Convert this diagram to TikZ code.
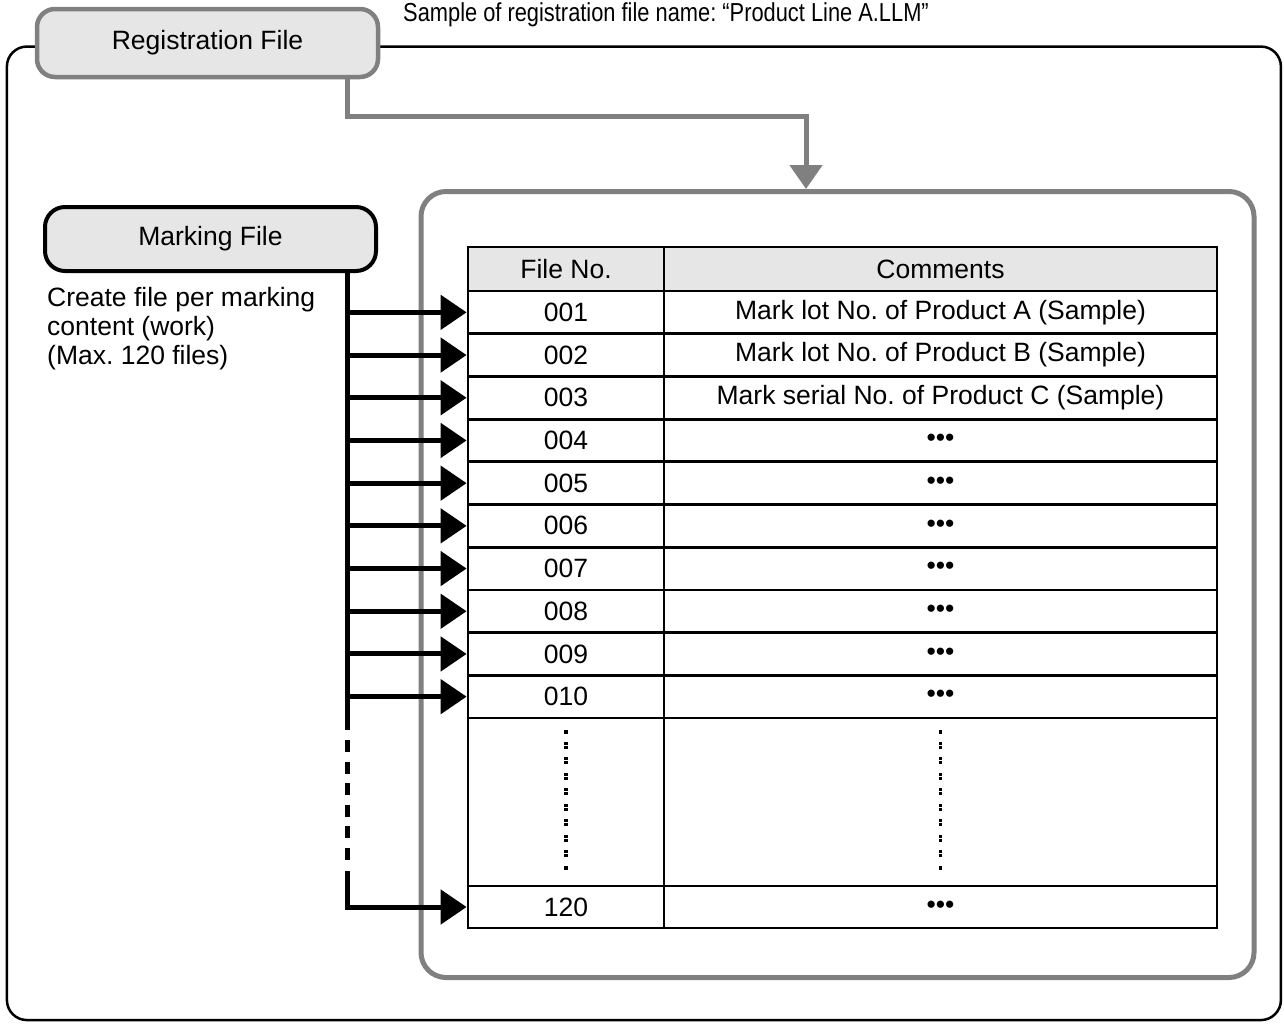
\documentclass[tikz,border=0pt]{standalone}
\usepackage{fontspec}
\setmainfont{Liberation Sans}
\newfontfamily\condfont[FakeStretch=0.84]{Liberation Sans}
\usetikzlibrary{arrows.meta}
\definecolor{boxfill}{HTML}{E6E6E6}
\definecolor{grayline}{HTML}{808080}
\frenchspacing
\begin{document}
\begin{tikzpicture}[x=1pt,y=-1pt,
  txt/.style={font=\fontsize{26.5}{29}\selectfont, inner sep=0pt},
  regbox/.style={draw=grayline, line width=4.5pt, fill=boxfill, rounded corners=18pt,
    minimum width=341pt, minimum height=68pt, inner sep=0pt, font=\fontsize{26.5}{29}\selectfont},
  markbox/.style={draw=black, line width=4pt, fill=boxfill, rounded corners=20pt,
    minimum width=331pt, minimum height=64pt, inner sep=0pt, font=\fontsize{26.5}{29}\selectfont},
  outerbox/.style={draw=black, line width=2.5pt, rounded corners=20pt, inner sep=0pt,
    minimum width=1274pt, minimum height=973.5pt},
  innerbox/.style={draw=grayline, line width=5pt, rounded corners=25pt, inner sep=0pt,
    minimum width=833pt, minimum height=786pt},
  cellA/.style={draw=black, line width=2.8pt, inner sep=0pt, minimum width=196pt,
    font=\fontsize{26.5}{29}\selectfont},
  cellB/.style={draw=black, line width=2.8pt, inner sep=0pt, minimum width=553pt,
    font=\fontsize{26.5}{29}\selectfont},
  grayarrow/.style={draw=grayline, line width=5pt, -{Triangle[length=24pt,width=32pt]}},
  blkarrow/.style={draw=black, line width=5pt, -{Triangle[length=26pt,width=34pt]}},
  blkline/.style={draw=black, line width=5pt},
]
\useasboundingbox (0,0) rectangle (1284,1023);
% outer frame
\node[outerbox] (outer) at (643.9,533.3) {};
% inner frame
\node[innerbox] (inner) at (837.5,584.5) {};
% registration file
\node[regbox] (reg) at (207.5,43) {Registration File};
\node[txt, anchor=base west] (sample) at (403,21) {\condfont\fontsize{26}{29}\selectfont Sample of registration file name: “Product Line A.LLM”};
% marking file
\node[markbox] (mark) at (210.5,239) {Marking File};
\node[txt, anchor=west, align=left] (create) at (47,329) {Create file per marking\\content (work)\\(Max. 120 files)};
% table header
\node[cellA, fill=boxfill, minimum height=44pt] (hA) at (566,269) {File No.};
\node[cellB, fill=boxfill, minimum height=44pt] (hB) at (940.5,269) {Comments};
% rows
\foreach \i/\num/\com in {1/001/Mark lot No. of Product A (Sample),
  2/002/Mark lot No. of Product B (Sample),
  3/003/Mark serial No. of Product C (Sample),
  4/004/•••, 5/005/•••, 6/006/•••, 7/007/•••, 8/008/•••, 9/009/•••, 10/010/•••}{
  \pgfmathsetmacro{\yc}{291+(\i-0.5)*42.7}
  \node[cellA, minimum height=42.7pt] (a\i) at (566,\yc) {\num};
  \node[cellB, minimum height=42.7pt] (b\i) at (940.5,\yc) {\com};
}
\node[cellA, minimum height=168pt] (aD) at (566,802) {};
\node[cellB, minimum height=168pt] (bD) at (940.5,802) {};
\node[cellA, minimum height=42pt] (a120) at (566,907) {120};
\node[cellB, minimum height=42pt] (b120) at (940.5,907) {•••};
% vertical dots in the gap row
\foreach \xx in {566,940.5}{
  \foreach \yy in {732,868}{\fill (\xx-1.6,\yy-1.6) rectangle (\xx+1.6,\yy+1.6);}
  \foreach \k in {0,...,7}{
    \pgfmathsetmacro{\ya}{743.3+15.5*\k}
    \pgfmathsetmacro{\yb}{747.3+15.5*\k}
    \fill (\xx-1.6,\ya-1.6) rectangle (\xx+1.6,\ya+1.6);
    \fill (\xx-1.6,\yb-1.6) rectangle (\xx+1.6,\yb+1.6);
  }
}
% gray connector
\coordinate (rx) at (347,0);
\coordinate (ax) at (806,0);
\coordinate (gbend) at (347,116);
\coordinate (gbend2) at (806,116);
\draw[grayarrow] (reg.south -| rx) -- (gbend) -- (gbend2) -- (inner.north -| ax);
% black bus
\coordinate (busA) at (347,730);
\coordinate (busB) at (347,740);
\coordinate (busC) at (347,860);
\coordinate (busD) at (347,871);
\draw[blkline] (mark.south -| rx) -- (busA);
\draw[blkline, dash pattern=on 12pt off 9.6pt] (busB) -- (busC);
\foreach \i in {1,...,10}{
  \draw[blkarrow] (rx |- a\i.west) -- (a\i.west);
}
\draw[blkarrow] (busD) |- (a120.west);
\end{tikzpicture}
\end{document}
